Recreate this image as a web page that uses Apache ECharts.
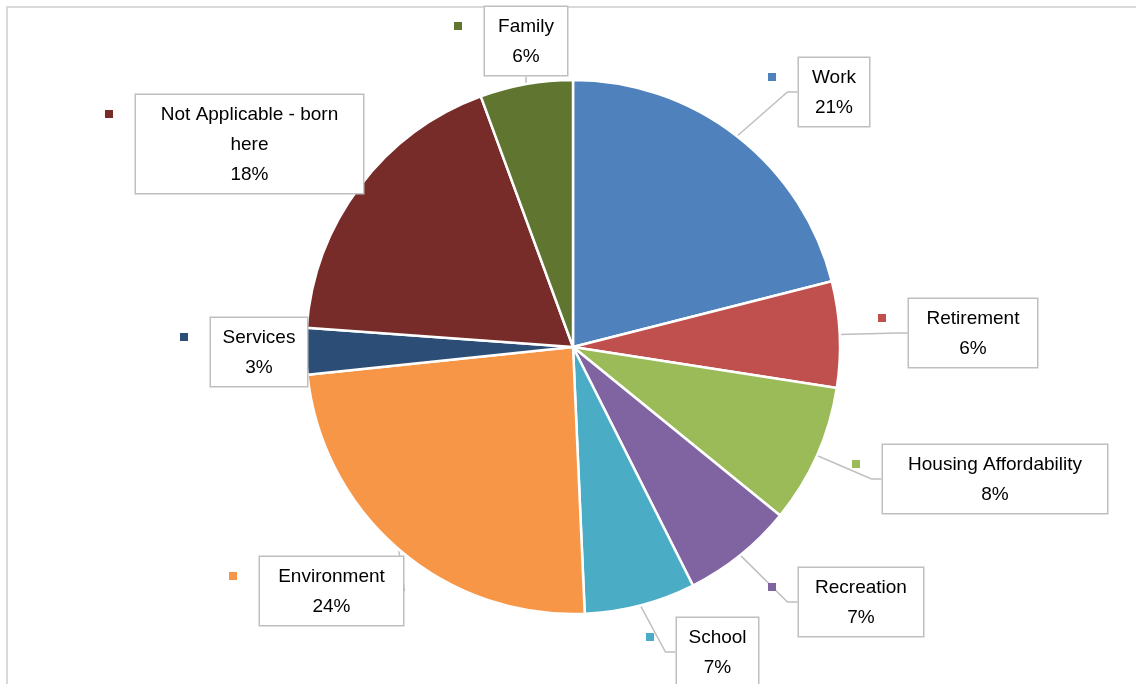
<!DOCTYPE html>
<html>
<head>
<meta charset="utf-8">
<script src="https://cdn.jsdelivr.net/npm/echarts@6/dist/echarts.min.js"></script>
<style>
  html, body { margin: 0; padding: 0; background: #fff; }
  #chart { width: 1136px; height: 684px; }
</style>
</head>
<body>
<div id="chart"></div>
<script>
// data
const categories = ["Work", "Retirement", "Housing Affordability", "Recreation", "School",
  "Environment", "Services", "Not Applicable - born\nhere", "Family"];
const values = [21.0, 6.4, 8.4, 6.7, 6.7, 24.0, 2.8, 18.2, 5.6];
const colors = ["#4F81BD", "#C0504D", "#9BBB59", "#8064A2", "#4BACC6",
  "#F79646", "#2C4D75", "#772C2A", "#5F7530"];

// label boxes (left, top, width) in px
const boxLeft = [799, 909, 883, 799, 677, 260, 211, 136, 485];
const boxTop = [58, 299, 445, 568, 618, 557, 318, 95, 7];
const boxWidth = [70, 128, 224, 124, 81, 143, 96, 227, 82];
// slices whose box sits right on the pie get no leader line
const hideLine = [false, false, false, false, false, false, true, true, false];

const chartDom = document.getElementById("chart");
const myChart = echarts.init(chartDom);

// small legend keys left of each label box
const keys = boxLeft.map((l, i) => ({
  type: "rect",
  shape: { x: l - 31, y: boxTop[i] + 15, width: 8, height: 8 },
  style: { fill: colors[i] },
  z: 10,
}));

myChart.setOption({
  animation: false,
  graphic: [
    {
      type: "rect",
      shape: { x: 7, y: 7, width: 1300, height: 900 },
      style: { fill: "none", stroke: "#D9D9D9", lineWidth: 2 },
      silent: true,
    },
    ...keys,
  ],
  series: [
    {
      type: "pie",
      center: [573, 347],
      radius: 267,
      startAngle: 90,
      clockwise: true,
      percentPrecision: 0,
      itemStyle: {
        borderColor: "#fff",
        borderWidth: 2.5,
      },
      label: {
        show: true,
        position: "outside",
        formatter: "{b}\n{d}%",
        fontFamily: "Liberation Sans",
        fontSize: 19,
        lineHeight: 30,
        color: "#000",
        backgroundColor: "#fff",
        borderColor: "#BFBFBF",
        borderWidth: 1.5,
        padding: [5, 10, 3, 10],
        align: "center",
      },
      labelLine: {
        show: true,
        length: 10,
        length2: 10,
        lineStyle: { color: "#BFBFBF", width: 1.5 },
      },
      labelLayout: function (params) {
        const i = params.dataIndex;
        return {
          x: boxLeft[i] + boxWidth[i] / 2,
          y: boxTop[i],
          align: "center",
          verticalAlign: "top",
        };
      },
      data: categories.map((name, i) => ({
        name: name,
        value: values[i],
        itemStyle: { color: colors[i] },
        label: { width: boxWidth[i] - 20 },
        labelLine: { show: !hideLine[i] },
      })),
    },
  ],
});
</script>
</body>
</html>
